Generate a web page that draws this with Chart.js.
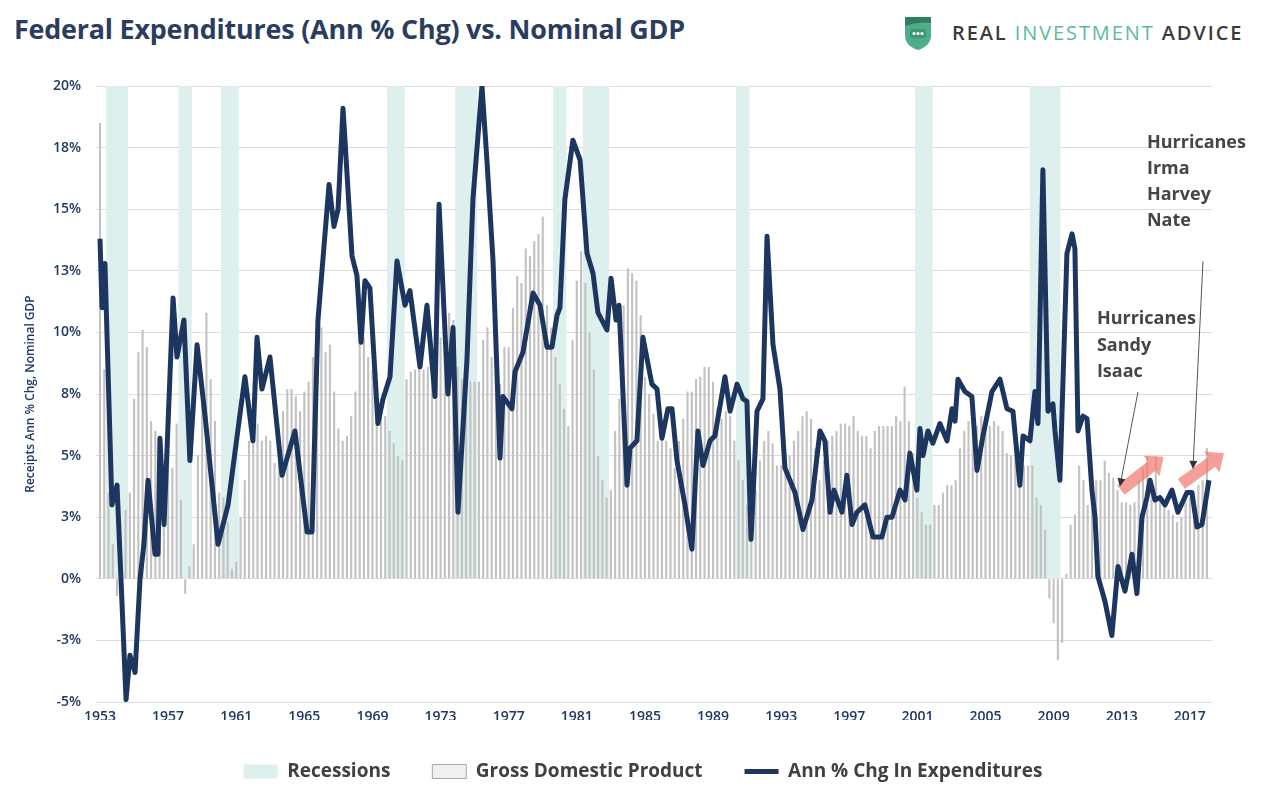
<!DOCTYPE html>
<html>
<head>
<meta charset="utf-8">
<title>Federal Expenditures (Ann % Chg) vs. Nominal GDP</title>
<script src="https://cdn.jsdelivr.net/npm/chart.js@4.4.1/dist/chart.umd.min.js"></script>
<style>
  html, body { margin: 0; padding: 0; background: #fff; }
  body { width: 1267px; height: 801px; position: relative; overflow: hidden; font-family: 'Open Sans', sans-serif; }
  #title { position: absolute; left: 14px; top: 16px; font-size: 26.9px; line-height: 26px; font-weight: 700; color: #2b3d5f; white-space: nowrap; letter-spacing: -0.2px; }
  #logo { position: absolute; left: 904px; top: 15px; }
  #brand { position: absolute; left: 952px; top: 22px; font-size: 20px; line-height: 22px; letter-spacing: 1.9px; font-weight: 600; color: #3b3b3b; white-space: nowrap; }
  #brand .green { color: #5bbd92; font-weight: 400; }
  #chartBox { position: absolute; left: 0; top: 60px; }
</style>
</head>
<body>
<div id="title">Federal Expenditures (Ann % Chg) vs. Nominal GDP</div>
<svg id="logo" width="28" height="36" viewBox="0 0 28 36">
  <path d="M1 2 H27 V20 Q27 31 14 35 Q1 31 1 20 Z" fill="#4fae8a"/>
  <path d="M1 2 H27 V8 Q14 6 1 11 Z" fill="#2f7e62"/>
  <rect x="6" y="14" width="16" height="9" rx="3" fill="#3f9676"/>
  <circle cx="10" cy="18.5" r="1.6" fill="#fff"/>
  <circle cx="14" cy="18.5" r="1.6" fill="#fff"/>
  <circle cx="18" cy="18.5" r="1.6" fill="#fff"/>
</svg>
<div id="brand">REAL <span class="green">INVESTMENT</span> ADVICE</div>
<div id="chartBox"><canvas id="myChart" width="1267" height="741"></canvas></div>

<script>
// nominal GDP, annual % change, one value per quarter from 1953 Q1
const gdpStart = 1953;
const gdpQuarterly = [
  18.5, 8.5, 3.5, 1.4,    -0.7, 0.2, 2.8, 3.5,    7.3, 9.2, 10.1, 9.4,    6.4, 6.0, 5.3, 4.7,
  5.5, 4.5, 6.3, 3.2,     -0.6, 0.5, 1.4, 5.0,    7.9, 10.8, 8.1, 6.4,    3.5, 3.3, 2.3, 0.4,
  0.7, 2.5, 4.0, 5.6,     6.3, 6.3, 5.6, 5.8,     5.6, 4.7, 5.5, 6.8,     7.7, 7.7, 7.4, 6.8,
  7.6, 8.0, 9.0, 10.8,    10.2, 9.2, 9.5, 7.6,    6.1, 5.6, 5.8, 6.6,     7.6, 9.8, 9.8, 9.0,
  8.5, 8.0, 7.3, 6.6,     6.0, 5.5, 5.0, 4.8,     8.1, 8.4, 8.5, 9.0,     8.5, 8.6, 8.8, 9.2,
  9.8, 11.3, 10.8, 10.5,  8.6, 8.1, 8.4, 8.0,     8.0, 8.0, 9.7, 10.2,    9.0, 9.6, 7.9, 9.4,
  9.4, 11.0, 12.3, 12.0,  13.4, 13.1, 13.7, 14.0, 14.7, 11.1, 10.2, 9.0,  7.9, 6.9, 6.2, 9.7,
  12.1, 13.3, 12.0, 10.0, 8.5, 5.0, 4.0, 3.3,     3.6, 6.0, 7.3, 11.1,    12.6, 12.4, 12.1, 10.7,
  8.2, 7.5, 6.7, 5.6,     5.6, 5.6, 5.3, 4.5,     5.6, 6.5, 7.6, 7.6,     8.1, 8.2, 8.6, 8.6,
  8.0, 6.9, 6.5, 6.8,     6.6, 5.6, 4.8, 4.0,     3.0, 2.3, 3.6, 4.8,     5.6, 6.0, 5.5, 4.6,
  4.6, 4.8, 5.0, 5.6,     6.0, 6.6, 6.8, 6.5,     5.3, 4.0, 4.8, 5.6,     5.8, 6.0, 6.3, 6.3,
  6.2, 6.6, 6.0, 5.8,     5.8, 5.3, 6.0, 6.2,     6.2, 6.2, 6.2, 6.6,     6.4, 7.8, 6.4, 5.1,
  3.3, 2.7, 2.2, 2.2,     3.0, 3.0, 3.5, 3.8,     3.8, 4.0, 5.3, 6.0,     6.4, 6.0, 6.2, 6.6,
  6.6, 6.2, 6.4, 6.2,     6.0, 5.1, 5.0, 5.0,     4.7, 4.6, 4.6, 4.6,     3.3, 3.0, 2.0, -0.8,
  -1.8, -3.3, -2.6, 0.2,  2.2, 2.6, 4.6, 4.0,     3.0, 3.5, 4.0, 4.0,     4.8, 4.3, 4.1, 3.6,
  3.1, 3.1, 3.0, 3.1,     4.0, 4.5, 5.0, 4.0,     5.0, 3.3, 3.0, 2.8,     2.6, 2.3, 2.5, 3.2,
  3.3, 3.5, 3.8, 4.0,     5.3
];

// federal expenditures, annual % change
const expYears = [
  1953.00, 1953.12, 1953.29, 1953.70, 1954.00, 1954.53, 1954.76, 1955.06, 1955.35, 1955.58,
  1955.82, 1956.23, 1956.41, 1956.52, 1956.76, 1957.29, 1957.52, 1957.93, 1958.28, 1958.70,
  1959.17, 1959.93, 1960.52, 1961.51, 1961.98, 1962.22, 1962.51, 1962.98, 1963.69, 1964.45,
  1965.16, 1965.45, 1965.80, 1966.45, 1966.74, 1966.98, 1967.27, 1967.80, 1968.09, 1968.33,
  1968.56, 1968.85, 1969.32, 1969.62, 1970.03, 1970.44, 1970.91, 1971.20, 1971.79, 1972.20,
  1972.67, 1972.91, 1973.43, 1973.73, 1974.02, 1974.55, 1974.90, 1975.43, 1975.72, 1976.08,
  1976.49, 1976.66, 1977.19, 1977.37, 1977.84, 1978.43, 1978.84, 1979.25, 1979.54, 1979.84,
  1980.01, 1980.30, 1980.77, 1981.19, 1981.60, 1981.95, 1982.24, 1982.77, 1983.01, 1983.30,
  1983.48, 1983.95, 1984.12, 1984.53, 1984.88, 1985.41, 1985.71, 1986.00, 1986.35, 1986.59,
  1986.88, 1987.35, 1987.76, 1988.11, 1988.41, 1988.82, 1989.11, 1989.70, 1990.00, 1990.41,
  1990.76, 1990.99, 1991.23, 1991.58, 1991.93, 1992.17, 1992.52, 1992.93, 1993.22, 1993.81,
  1994.28, 1994.81, 1995.28, 1995.57, 1995.87, 1996.10, 1996.57, 1996.86, 1997.16, 1997.45,
  1997.92, 1998.39, 1998.92, 1999.21, 1999.51, 1999.98, 2000.27, 2000.56, 2000.97, 2001.15,
  2001.33, 2001.62, 2001.91, 2002.32, 2002.74, 2003.03, 2003.21, 2003.38, 2003.79, 2004.20,
  2004.50, 2004.85, 2005.38, 2005.85, 2006.26, 2006.61, 2007.02, 2007.20, 2007.61, 2007.90,
  2008.08, 2008.37, 2008.67, 2008.96, 2009.08, 2009.37, 2009.78, 2010.08, 2010.25, 2010.43,
  2010.72, 2010.96, 2011.25, 2011.43, 2011.60, 2012.01, 2012.42, 2012.78, 2013.19, 2013.60,
  2013.89, 2014.19, 2014.48, 2014.66, 2014.95, 2015.24, 2015.54, 2015.95, 2016.30, 2016.83,
  2017.12, 2017.42, 2017.71, 2018.12
];
const expValues = [
  13.8, 11.0, 12.8, 3.0, 3.8, -4.9, -3.1, -3.8, 0.0, 1.4,
  4.0, 1.0, 1.0, 5.7, 2.2, 11.4, 9.0, 10.5, 4.8, 9.5,
  6.6, 1.4, 3.0, 8.2, 5.6, 9.8, 7.7, 9.0, 4.2, 6.0,
  1.9, 1.9, 10.5, 16.0, 14.3, 15.0, 19.1, 13.1, 12.3, 9.6,
  12.1, 11.8, 6.3, 7.3, 8.2, 12.9, 11.1, 11.7, 8.6, 11.1,
  7.4, 15.2, 7.5, 10.2, 2.7, 8.9, 15.4, 20.0, 17.0, 12.9,
  4.9, 7.4, 6.9, 8.4, 9.2, 11.6, 11.1, 9.4, 9.4, 10.7,
  11.0, 15.4, 17.8, 17.0, 13.2, 12.4, 10.8, 10.1, 12.2, 10.5,
  11.1, 3.8, 5.3, 5.6, 9.8, 7.9, 7.7, 5.7, 6.9, 6.9,
  4.8, 3.0, 1.2, 6.0, 4.6, 5.6, 5.8, 8.2, 6.8, 7.9,
  7.3, 7.2, 1.6, 6.8, 7.3, 13.9, 9.5, 7.7, 4.5, 3.5,
  2.0, 3.2, 6.0, 5.6, 2.7, 3.6, 2.7, 4.2, 2.2, 2.7,
  3.0, 1.7, 1.7, 2.5, 2.5, 3.6, 3.2, 5.1, 3.6, 6.1,
  5.0, 6.0, 5.5, 6.3, 5.6, 6.9, 6.4, 8.1, 7.6, 7.4,
  4.4, 5.8, 7.6, 8.1, 6.9, 6.8, 3.8, 5.8, 5.6, 7.6,
  6.3, 16.6, 6.8, 7.1, 6.0, 4.0, 13.2, 14.0, 13.4, 6.0,
  6.6, 6.5, 3.6, 2.5, 0.1, -0.9, -2.3, 0.5, -0.5, 1.0,
  -0.6, 2.5, 3.3, 4.0, 3.2, 3.3, 3.0, 3.6, 2.7, 3.5,
  3.5, 2.1, 2.2, 4.0
];

// recession quarters (first and last quarter of each)
const recessionStart = [1953.5, 1957.75, 1960.25, 1970.0, 1974.0, 1979.75, 1981.5, 1990.5, 2001.0, 2007.75];
const recessionEnd   = [1954.5, 1958.25, 1961.0, 1970.75, 1975.0, 1980.25, 1982.75, 1991.0, 2001.75, 2009.25];

const yearTicks = [1953, 1957, 1961, 1965, 1969, 1973, 1977, 1981, 1985, 1989, 1993, 1997, 2001, 2005, 2009, 2013, 2017];
const seriesNames = ['Recessions', 'Gross Domestic Product', 'Ann % Chg In Expenditures'];

// hurricane call-outs, in data units (year, %)
const hurricaneNotes = [
  { lines: ['Hurricanes', 'Irma', 'Harvey', 'Nate'], at: [2014.48, 17.71], from: [2017.77, 12.88], to: [2017.18, 4.46] },
  { lines: ['Hurricanes', 'Sandy', 'Isaac'], at: [2011.54, 10.53], from: [2013.95, 7.58], to: [2012.89, 3.75] }
];
const trendArrows = [
  { from: [2012.95, 3.6], to: [2015.45, 4.95] },
  { from: [2016.5, 3.85], to: [2019.0, 5.1] }
];

const NAVY = '#1d365f';
const TICK_COLOR = '#1f3864';

const gdpPoints = gdpQuarterly.map((v, i) => ({ x: gdpStart + i / 4, y: v }));
const recessionPoints = [];
recessionStart.forEach((s, k) => {
    for (let t = s; t <= recessionEnd[k] + 0.001; t += 0.25) {
        recessionPoints.push({ x: t, y: 20 });
    }
});
const expPoints = expYears.map((t, i) => ({ x: t, y: expValues[i] }));

// draws the text notes and the arrows
const notesPlugin = {
    id: 'notes',
    afterLayout(chart) {
        // legend sits a little left of the plot centre in the original
        if (chart.legend) {
            chart.legend.left -= 11;
            chart.legend.right -= 11;
        }
    },
    afterDatasetsDraw(chart) {
        const ctx = chart.ctx;
        const xs = chart.scales.x;
        const ys = chart.scales.y;
        const px = p => [xs.getPixelForValue(p[0]), ys.getPixelForValue(p[1])];
        ctx.save();

        trendArrows.forEach(a => {
            const [x0, y0] = px(a.from);
            const [x1, y1] = px(a.to);
            const len = Math.hypot(x1 - x0, y1 - y0);
            const ux = (x1 - x0) / len, uy = (y1 - y0) / len;
            const nx = -uy, ny = ux;
            const shaft = 6, head = 13, headLen = 15;
            const bx = x1 - ux * headLen, by = y1 - uy * headLen;
            ctx.beginPath();
            ctx.moveTo(x0 + nx * shaft, y0 + ny * shaft);
            ctx.lineTo(bx + nx * shaft, by + ny * shaft);
            ctx.lineTo(bx + nx * head, by + ny * head);
            ctx.lineTo(x1, y1);
            ctx.lineTo(bx - nx * head, by - ny * head);
            ctx.lineTo(bx - nx * shaft, by - ny * shaft);
            ctx.lineTo(x0 - nx * shaft, y0 - ny * shaft);
            ctx.closePath();
            ctx.fillStyle = 'rgba(241, 122, 112, 0.72)';
            ctx.fill();
        });

        ctx.font = "700 18px 'Open Sans', sans-serif";
        ctx.fillStyle = '#454545';
        ctx.textAlign = 'left';
        ctx.textBaseline = 'middle';
        hurricaneNotes.forEach(n => {
            const [tx, ty] = px(n.at);
            n.lines.forEach((line, i) => ctx.fillText(line, tx, ty + i * 26.3));

            const [x0, y0] = px(n.from);
            const [x1, y1] = px(n.to);
            const len = Math.hypot(x1 - x0, y1 - y0);
            const ux = (x1 - x0) / len, uy = (y1 - y0) / len;
            ctx.strokeStyle = '#555';
            ctx.lineWidth = 1;
            ctx.beginPath();
            ctx.moveTo(x0, y0);
            ctx.lineTo(x1 - ux * 6, y1 - uy * 6);
            ctx.stroke();
            ctx.beginPath();
            ctx.moveTo(x1, y1);
            ctx.lineTo(x1 - ux * 8 - uy * 4, y1 - uy * 8 + ux * 4);
            ctx.lineTo(x1 - ux * 8 + uy * 4, y1 - uy * 8 - ux * 4);
            ctx.closePath();
            ctx.fillStyle = '#333';
            ctx.fill();
            ctx.fillStyle = '#454545';
        });
        ctx.restore();
    }
};

Chart.defaults.font.family = "'Open Sans', sans-serif";

const ctx = document.getElementById('myChart').getContext('2d');
const chart = new Chart(ctx, {
    type: 'bar',
    data: {
        datasets: [
            {
                label: seriesNames[0],
                data: recessionPoints,
                backgroundColor: '#ddf0ee',
                borderWidth: 0,
                grouped: false,
                barPercentage: 1.15,
                categoryPercentage: 1,
                order: 3
            },
            {
                label: seriesNames[1],
                data: gdpPoints,
                backgroundColor: '#c2c2c2',
                borderWidth: 0,
                grouped: false,
                barPercentage: 0.5,
                categoryPercentage: 1,
                order: 2
            },
            {
                type: 'line',
                label: seriesNames[2],
                data: expPoints,
                borderColor: NAVY,
                backgroundColor: NAVY,
                borderWidth: 5,
                pointRadius: 0,
                tension: 0,
                fill: false,
                borderJoinStyle: 'round',
                order: 1
            }
        ]
    },
    options: {
        responsive: false,
        animation: false,
        devicePixelRatio: 1,
        layout: { padding: { top: 26, right: 55, bottom: 10, left: 0 } },
        scales: {
            x: {
                type: 'linear',
                min: 1952.765,
                max: 2018.3,
                offset: false,
                grid: { display: false, drawTicks: false },
                border: { display: false },
                afterBuildTicks: scale => {
                    scale.ticks = yearTicks.map(v => ({ value: v }));
                },
                afterFit: scale => { scale.height = 18; },
                ticks: {
                    autoSkip: false,
                    maxRotation: 0,
                    padding: 7,
                    color: TICK_COLOR,
                    font: { size: 14, weight: '600' },
                    callback: v => String(v)
                }
            },
            y: {
                min: -5,
                max: 20,
                grid: { color: '#dcdcdc', drawTicks: false },
                border: { display: false },
                afterFit: scale => { scale.width = 96; },
                ticks: {
                    stepSize: 2.5,
                    padding: 15,
                    color: TICK_COLOR,
                    font: { size: 14, weight: '600' },
                    callback: v => (v < 0 ? '-' : '') + Math.round(Math.abs(v)) + '%'
                },
                title: {
                    display: true,
                    text: 'Receipts Ann % Chg, Nominal GDP',
                    color: TICK_COLOR,
                    font: { size: 12, weight: '600' },
                    padding: { top: 23, bottom: 0 }
                }
            }
        },
        plugins: {
            legend: {
                position: 'bottom',
                fullSize: false,
                labels: {
                    usePointStyle: true,
                    pointStyleWidth: 34,
                    boxHeight: 14,
                    padding: 42,
                    color: '#404040',
                    font: { size: 19, weight: '700' },
                    generateLabels: chart => {
                        const items = Chart.defaults.plugins.legend.labels.generateLabels(chart);
                        items.sort((a, b) => a.datasetIndex - b.datasetIndex);
                        items.forEach(item => {
                            if (item.datasetIndex === 0) {
                                item.pointStyle = 'rect';
                                item.fillStyle = '#ddf0ee';
                                item.lineWidth = 0;
                            } else if (item.datasetIndex === 1) {
                                item.pointStyle = 'rect';
                                item.fillStyle = '#f0f0f0';
                                item.strokeStyle = '#a6a6a6';
                                item.lineWidth = 1;
                            } else {
                                item.pointStyle = 'line';
                                item.strokeStyle = NAVY;
                                item.lineWidth = 5;
                            }
                        });
                        return items;
                    }
                }
            },
            tooltip: { enabled: false }
        }
    },
    plugins: [notesPlugin]
});
</script>
</body>
</html>
